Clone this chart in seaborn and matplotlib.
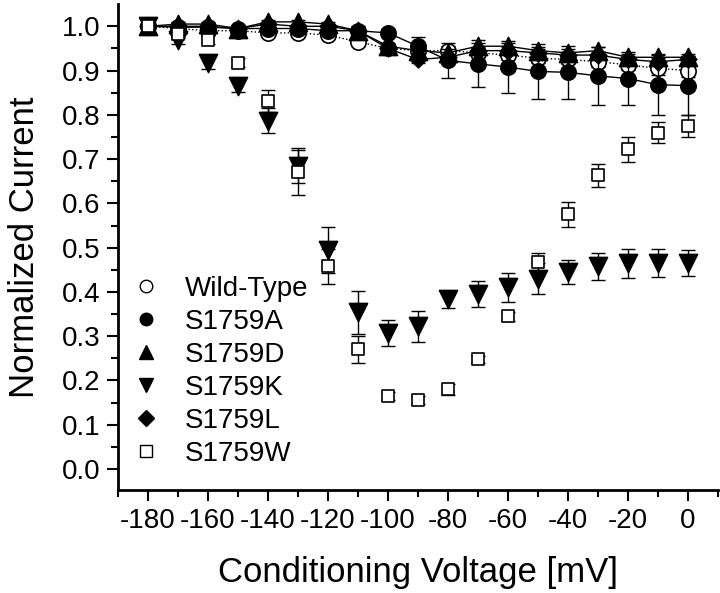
import numpy as np
import pandas as pd
import matplotlib
matplotlib.use("Agg")
import matplotlib.pyplot as plt
from matplotlib.lines import Line2D
import seaborn as sns

# Conditioning voltages (mV)
voltage = [-180, -170, -160, -150, -140, -130, -120, -110, -100, -90,
           -80, -70, -60, -50, -40, -30, -20, -10, 0]

# Normalized current per construct
wt = [1.0, 0.995, 0.99, 0.99, 0.985, 0.985, 0.98, 0.965, 0.95, 0.945,
      0.945, 0.94, 0.935, 0.928, 0.925, 0.92, 0.913, 0.905, 0.9]
wt_err = [0.005, 0.005, 0.005, 0.005, 0.005, 0.005, 0.005, 0.01, 0.01, 0.01,
          0.01, 0.01, 0.01, 0.01, 0.01, 0.012, 0.012, 0.015, 0.015]
s1759a = [1.0, 0.998, 0.998, 0.995, 0.995, 0.995, 0.99, 0.99, 0.985, 0.955,
          0.923, 0.915, 0.908, 0.898, 0.896, 0.888, 0.882, 0.868, 0.866]
s1759a_err = [0.005, 0.005, 0.005, 0.005, 0.005, 0.005, 0.005, 0.01, 0.01, 0.02,
              0.04, 0.053, 0.058, 0.063, 0.06, 0.065, 0.06, 0.068, 0.066]
s1759d = [1.0, 1.005, 1.005, 0.995, 1.01, 1.01, 1.005, 0.99, 0.955, 0.945,
          0.94, 0.955, 0.955, 0.945, 0.94, 0.945, 0.93, 0.93, 0.93]
s1759d_err = [0.005, 0.005, 0.005, 0.005, 0.005, 0.005, 0.005, 0.008, 0.008, 0.008,
              0.008, 0.008, 0.008, 0.008, 0.008, 0.008, 0.008, 0.008, 0.008]
s1759k = [1.0, 0.97, 0.918, 0.866, 0.787, 0.685, 0.494, 0.354, 0.307, 0.322,
          0.383, 0.395, 0.41, 0.43, 0.445, 0.458, 0.465, 0.465, 0.465]
s1759k_err = [0.005, 0.01, 0.015, 0.015, 0.028, 0.04, 0.052, 0.048, 0.03, 0.035,
              0.02, 0.03, 0.033, 0.035, 0.027, 0.03, 0.033, 0.032, 0.03]
s1759l = [1.0, 1.0, 1.0, 0.995, 1.005, 1.0, 1.0, 0.99, 0.95, 0.925,
          0.93, 0.945, 0.945, 0.94, 0.935, 0.935, 0.925, 0.92, 0.925]
s1759l_err = [0.005, 0.005, 0.005, 0.005, 0.005, 0.005, 0.005, 0.008, 0.008, 0.008,
              0.008, 0.008, 0.008, 0.008, 0.008, 0.008, 0.008, 0.008, 0.008]
s1759w = [1.0, 0.983, 0.97, 0.918, 0.832, 0.67, 0.458, 0.27, 0.165, 0.156,
          0.18, 0.248, 0.345, 0.467, 0.575, 0.663, 0.722, 0.76, 0.774]
s1759w_err = [0.005, 0.01, 0.01, 0.01, 0.025, 0.05, 0.04, 0.03, 0.01, 0.01,
              0.012, 0.008, 0.01, 0.02, 0.028, 0.025, 0.028, 0.023, 0.025]

labels = ["Wild-Type", "S1759A", "S1759D", "S1759K", "S1759L", "S1759W"]

sns.set_style("ticks")
plt.rcParams["font.family"] = ["Liberation Sans", "DejaVu Sans"]
plt.rcParams["axes.unicode_minus"] = False
plt.rcParams["text.color"] = "black"
plt.rcParams["axes.labelcolor"] = "black"
plt.rcParams["xtick.color"] = "black"
plt.rcParams["ytick.color"] = "black"

fig = plt.figure(figsize=(7.2, 5.93), dpi=100)
ax = fig.add_axes([0.164, 0.174, 0.833, 0.819])

# series: values, errors, marker, size, fill, linestyle, legend marker size
series = [
    (wt, wt_err, "o", 11, "white", ":", 9),
    (s1759a, s1759a_err, "o", 11, "black", "-", 9),
    (s1759d, s1759d_err, "^", 13, "black", "-", 10),
    (s1759k, s1759k_err, "v", 13, "black", "", 10),
    (s1759l, s1759l_err, "D", 8.5, "black", "-", 8),
    (s1759w, s1759w_err, "s", 9, "white", "", 8),
]

for i, (vals, err, mk, ms, fc, ls, _) in enumerate(series):
    df = pd.DataFrame({"v": voltage, "y": vals})
    ax.errorbar(voltage, vals, yerr=err, fmt="none", ecolor="black",
                elinewidth=1, capsize=5, capthick=1, zorder=2 + i)
    if ls:
        sns.lineplot(data=df, x="v", y="y", ax=ax, color="black",
                     linestyle=ls, linewidth=1, zorder=2 + i)
    sns.scatterplot(data=df, x="v", y="y", ax=ax, marker=mk, s=ms ** 2,
                    facecolor=fc, edgecolor="black", linewidth=1.2,
                    zorder=2.5 + i)

ax.set_xlim(-190, 10)
ax.set_ylim(-0.047, 1.05)
ax.set_xticks(np.arange(-180, 1, 20))
ax.set_xticks(np.arange(-190, 11, 10), minor=True)
ax.set_yticks(np.arange(0, 1.01, 0.1))
ax.set_yticks(np.arange(0.05, 1.01, 0.1), minor=True)
ax.yaxis.set_major_formatter(matplotlib.ticker.FormatStrFormatter("%.1f"))
ax.tick_params(which="major", length=8, width=1.5, labelsize=20,
               direction="out", color="black", pad=5)
ax.tick_params(which="minor", length=5, width=1.5, direction="out")
for s in ["top", "right"]:
    ax.spines[s].set_visible(False)
for s in ["left", "bottom"]:
    ax.spines[s].set_linewidth(2)
    ax.spines[s].set_color("black")

ax.set_xlabel("Conditioning Voltage [mV]", fontsize=25, labelpad=16)
ax.set_ylabel("Normalized Current", fontsize=25, labelpad=15)

handles = []
for (vals, err, mk, ms, fc, ls, lms), lab in zip(series, labels):
    handles.append(Line2D([], [], linestyle="", marker=mk, markersize=lms,
                          markerfacecolor=fc, markeredgecolor="black",
                          markeredgewidth=1, label=lab))
ax.legend(handles=handles, loc="upper left", bbox_to_anchor=(0.005, 0.463),
          frameon=False, fontsize=20, labelspacing=0.25, handlelength=1.0,
          handletextpad=0.9, borderaxespad=0)

fig.savefig("out.png", dpi=100)
